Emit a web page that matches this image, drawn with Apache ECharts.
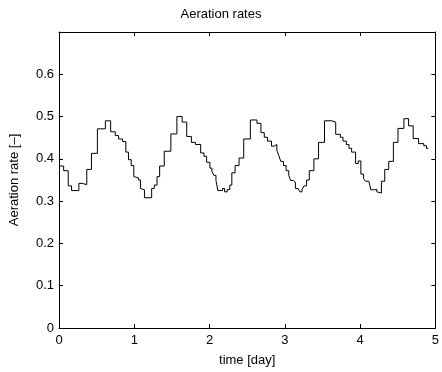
<!DOCTYPE html>
<html>
<head>
<meta charset="utf-8">
<script src="https://cdn.jsdelivr.net/npm/echarts@6/dist/echarts.min.js"></script>
<style>
html,body{margin:0;padding:0;background:#fff;}
#chart{width:442px;height:372px;}
</style>
</head>
<body>
<div id="chart"></div>
<script>
// Step transition times (days) and the value held from each time onward
const times = [
  0.000, 0.062, 0.123, 0.167, 0.264, 0.308, 0.369, 0.431, 0.510, 0.616,
  0.686, 0.748, 0.792, 0.844, 0.888, 0.923, 0.959, 0.994, 1.020, 1.055,
  1.082, 1.108, 1.135, 1.231, 1.266, 1.302, 1.337, 1.398, 1.486, 1.566,
  1.636, 1.697, 1.759, 1.812, 1.882, 1.926, 1.961, 2.005, 2.032, 2.058,
  2.085, 2.111, 2.172, 2.199, 2.234, 2.269, 2.296, 2.339, 2.392, 2.454,
  2.542, 2.630, 2.683, 2.727, 2.770, 2.823, 2.858, 2.894, 2.920, 2.946,
  2.982, 3.017, 3.052, 3.078, 3.113, 3.140, 3.175, 3.201, 3.228, 3.254,
  3.289, 3.325, 3.386, 3.448, 3.527, 3.624, 3.676, 3.738, 3.773, 3.817,
  3.852, 3.887, 3.940, 3.975, 4.010, 4.046, 4.072, 4.116, 4.142, 4.195,
  4.222, 4.248, 4.283, 4.327, 4.380, 4.442, 4.503, 4.582, 4.644, 4.705,
  4.776, 4.846, 4.881, 4.907
];
const rates = [
  0.383, 0.372, 0.336, 0.325, 0.342, 0.339, 0.375, 0.413, 0.471, 0.490,
  0.464, 0.455, 0.447, 0.441, 0.416, 0.398, 0.384, 0.358, 0.355, 0.350,
  0.330, 0.327, 0.308, 0.330, 0.338, 0.358, 0.383, 0.418, 0.459, 0.500,
  0.487, 0.453, 0.439, 0.434, 0.414, 0.406, 0.392, 0.378, 0.370, 0.361,
  0.349, 0.325, 0.330, 0.322, 0.327, 0.338, 0.367, 0.384, 0.402, 0.447,
  0.492, 0.484, 0.462, 0.451, 0.442, 0.430, 0.434, 0.420, 0.408, 0.394,
  0.384, 0.372, 0.361, 0.349, 0.345, 0.330, 0.327, 0.322, 0.327, 0.336,
  0.350, 0.372, 0.400, 0.439, 0.490, 0.487, 0.458, 0.451, 0.442, 0.434,
  0.425, 0.416, 0.389, 0.395, 0.364, 0.353, 0.347, 0.344, 0.327, 0.328,
  0.322, 0.319, 0.347, 0.375, 0.394, 0.439, 0.472, 0.495, 0.478, 0.448,
  0.436, 0.431, 0.425, 0.425
];
const xTicks = [0, 1, 2, 3, 4, 5];
const yTicks = [0, 0.1, 0.2, 0.3, 0.4, 0.5, 0.6];

const FONT = 'Liberation Sans, Arial, sans-serif';
const chart = echarts.init(document.getElementById('chart'), null, {renderer: 'canvas'});
function axisLine() { return {show: true, onZero: false, lineStyle: {color: '#000', width: 1}}; }
function tick() { return {show: true, inside: true, length: 4, lineStyle: {color: '#000', width: 1}}; }
chart.setOption({
  animation: false,
  backgroundColor: '#fff',
  title: {
    text: 'Aeration rates', left: 'center', top: 3,
    textStyle: {fontFamily: FONT, fontSize: 13, fontWeight: 'normal', color: '#000'}
  },
  grid: {left: 58, right: 5, top: 32, bottom: 41, containLabel: false},
  xAxis: [{
    type: 'value', min: 0, max: 5, interval: 1, position: 'bottom',
    name: 'time [day]', nameLocation: 'middle', nameGap: 26,
    nameTextStyle: {fontFamily: FONT, fontSize: 13, color: '#000'},
    axisLine: axisLine(), axisTick: tick(), splitLine: {show: false},
    axisLabel: {fontFamily: FONT, fontSize: 13, color: '#000', margin: 6,
      formatter: v => xTicks.indexOf(v) >= 0 ? String(v) : ''}
  }, {
    type: 'value', min: 0, max: 5, interval: 1, position: 'top',
    axisLine: axisLine(), axisTick: tick(), splitLine: {show: false},
    axisLabel: {show: false}
  }],
  yAxis: [{
    type: 'value', min: 0, max: 0.7, interval: 0.1, position: 'left',
    name: 'Aeration rate [–]', nameLocation: 'middle', nameGap: 38, nameRotate: 90,
    nameTextStyle: {fontFamily: FONT, fontSize: 13, color: '#000'},
    axisLine: axisLine(), axisTick: tick(), splitLine: {show: false},
    axisLabel: {fontFamily: FONT, fontSize: 13, color: '#000', margin: 5,
      formatter: v => {
        const m = yTicks.find(t => Math.abs(t - v) < 1e-9);
        return m === undefined ? '' : String(m);
      }}
  }, {
    type: 'value', min: 0, max: 0.7, interval: 0.1, position: 'right',
    axisLine: axisLine(), axisTick: tick(), splitLine: {show: false},
    axisLabel: {show: false}
  }],
  series: [{
    type: 'line', step: 'end', showSymbol: false, symbol: 'none',
    xAxisIndex: 0, yAxisIndex: 0,
    lineStyle: {color: '#000', width: 1},
    data: times.map((t, i) => [t, rates[i]])
  }]
});
</script>
</body>
</html>
